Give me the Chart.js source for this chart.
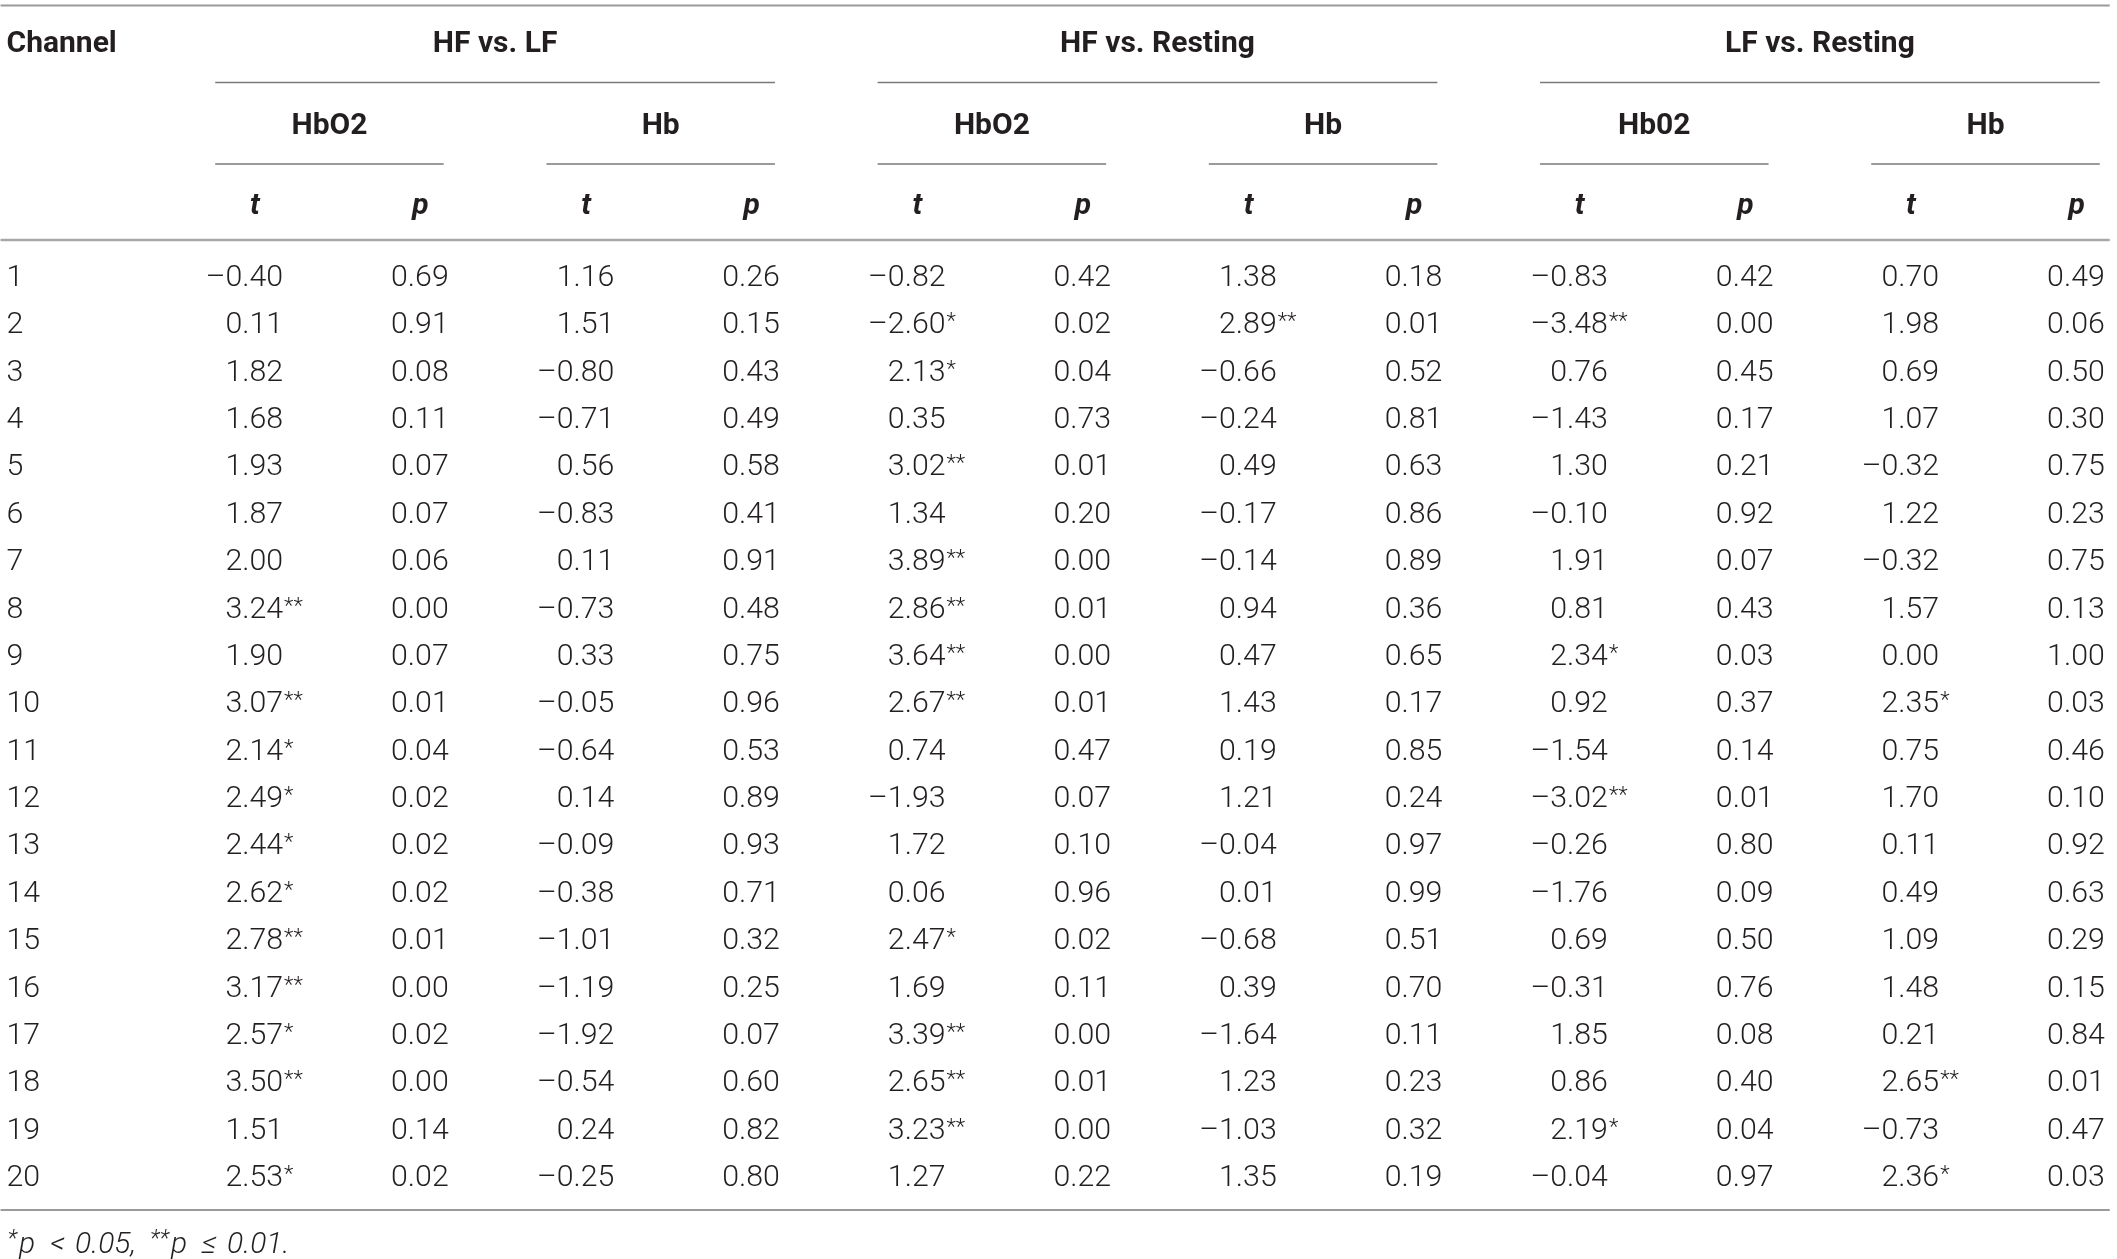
<!DOCTYPE html>
<html>
<head>
<meta charset="utf-8">
<script src="https://cdn.jsdelivr.net/npm/chart.js@4.4.1/dist/chart.umd.min.js"></script>
<style>
  html, body { margin: 0; padding: 0; background: #fff; }
  #wrap { width: 2117px; height: 1259px; }
</style>
</head>
<body>
<div id="wrap"><canvas id="table-chart" width="2117" height="1259"></canvas></div>
<script>
// rows
var channels = [1,2,3,4,5,6,7,8,9,10,11,12,13,14,15,16,17,18,19,20];

// HF vs. LF
var hfLfHbO2T = [-0.40,0.11,1.82,1.68,1.93,1.87,2.00,3.24,1.90,3.07,2.14,2.49,2.44,2.62,2.78,3.17,2.57,3.50,1.51,2.53];
var hfLfHbO2P = [0.69,0.91,0.08,0.11,0.07,0.07,0.06,0.00,0.07,0.01,0.04,0.02,0.02,0.02,0.01,0.00,0.02,0.00,0.14,0.02];
var hfLfHbT   = [1.16,1.51,-0.80,-0.71,0.56,-0.83,0.11,-0.73,0.33,-0.05,-0.64,0.14,-0.09,-0.38,-1.01,-1.19,-1.92,-0.54,0.24,-0.25];
var hfLfHbP   = [0.26,0.15,0.43,0.49,0.58,0.41,0.91,0.48,0.75,0.96,0.53,0.89,0.93,0.71,0.32,0.25,0.07,0.60,0.82,0.80];

// HF vs. Resting
var hfRestHbO2T = [-0.82,-2.60,2.13,0.35,3.02,1.34,3.89,2.86,3.64,2.67,0.74,-1.93,1.72,0.06,2.47,1.69,3.39,2.65,3.23,1.27];
var hfRestHbO2P = [0.42,0.02,0.04,0.73,0.01,0.20,0.00,0.01,0.00,0.01,0.47,0.07,0.10,0.96,0.02,0.11,0.00,0.01,0.00,0.22];
var hfRestHbT   = [1.38,2.89,-0.66,-0.24,0.49,-0.17,-0.14,0.94,0.47,1.43,0.19,1.21,-0.04,0.01,-0.68,0.39,-1.64,1.23,-1.03,1.35];
var hfRestHbP   = [0.18,0.01,0.52,0.81,0.63,0.86,0.89,0.36,0.65,0.17,0.85,0.24,0.97,0.99,0.51,0.70,0.11,0.23,0.32,0.19];

// LF vs. Resting
var lfRestHbO2T = [-0.83,-3.48,0.76,-1.43,1.30,-0.10,1.91,0.81,2.34,0.92,-1.54,-3.02,-0.26,-1.76,0.69,-0.31,1.85,0.86,2.19,-0.04];
var lfRestHbO2P = [0.42,0.00,0.45,0.17,0.21,0.92,0.07,0.43,0.03,0.37,0.14,0.01,0.80,0.09,0.50,0.76,0.08,0.40,0.04,0.97];
var lfRestHbT   = [0.70,1.98,0.69,1.07,-0.32,1.22,-0.32,1.57,0.00,2.35,0.75,1.70,0.11,0.49,1.09,1.48,0.21,2.65,-0.73,2.36];
var lfRestHbP   = [0.49,0.06,0.50,0.30,0.75,0.23,0.75,0.13,1.00,0.03,0.46,0.10,0.92,0.63,0.29,0.15,0.84,0.01,0.47,0.03];

// header texts
var groupLabels  = ["HF vs. LF", "HF vs. Resting", "LF vs. Resting"];
var signalLabels = ["HbO2", "Hb", "HbO2", "Hb", "Hb02", "Hb"];
var statLabels   = ["t", "p"];
var firstHeader  = "Channel";
var noteParts    = [["*", 1], ["p", 0], ["<", 0], ["0.05,", 0], ["**", 1], ["p", 0], ["\u2264", 0], ["0.01.", 0]];

// t/p pairs, left to right
var pairs = [
  [hfLfHbO2T, hfLfHbO2P], [hfLfHbT, hfLfHbP],
  [hfRestHbO2T, hfRestHbO2P], [hfRestHbT, hfRestHbP],
  [lfRestHbO2T, lfRestHbO2P], [lfRestHbT, lfRestHbP]
];

// layout (scale units): column index on x, row number on y
var CHANNEL_X = -1.67;
var ROW_TOP_RULE = -4.71, ROW_GROUP = -3.95, ROW_GROUP_LINE = -3.085,
    ROW_SIGNAL = -2.23, ROW_SIGNAL_LINE = -1.364, ROW_STAT = -0.50,
    ROW_HEAD_RULE = 0.24, ROW_BOTTOM_RULE = 20.717, ROW_NOTE = 21.40;

var TEXT = "#231f20";
var NUM_FONT = "300 29px Roboto";
var NUM_STRETCH = 1.045;
var STAR_FONT = "300 22px Roboto";
var HEAD_FONT = "bold 30px Roboto";
var STAT_FONT = "italic bold 30px Roboto";
var NOTE_FONT = "italic 300 30px Roboto";
var NOTE_SUP_FONT = "italic 300 23px Roboto";
var NOTE_GAPS = [2, 15, 10, 14, 2, 15, 10, 0];

function fmt(v) {
  var s = Math.abs(v).toFixed(2);
  return v < 0 ? "\u2013" + s : s;
}
function stars(p) {
  if (p <= 0.01) return "**";
  if (p < 0.05) return "*";
  return "";
}

// one dataset per column; points are invisible, text is drawn at them
var datasets = [];
datasets.push({
  label: firstHeader,
  data: channels.map(function (ch) { return { x: CHANNEL_X, y: ch }; }),
  cellText: channels.map(function (ch) { return String(ch); }),
  cellStars: channels.map(function () { return ""; }),
  align: "left"
});
pairs.forEach(function (pr, k) {
  var tArr = pr[0], pArr = pr[1];
  datasets.push({
    label: signalLabels[k] + " t",
    data: channels.map(function (ch) { return { x: 2 * k, y: ch }; }),
    cellText: tArr.map(fmt),
    cellStars: pArr.map(stars),
    align: "right"
  });
  datasets.push({
    label: signalLabels[k] + " p",
    data: channels.map(function (ch) { return { x: 2 * k + 1, y: ch }; }),
    cellText: pArr.map(fmt),
    cellStars: pArr.map(function () { return ""; }),
    align: "right"
  });
});

var tablePlugin = {
  id: "tableText",
  afterDatasetsDraw: function (chart) {
    var ctx = chart.ctx, xs = chart.scales.x, ys = chart.scales.y;
    ctx.save();
    ctx.fillStyle = TEXT;
    ctx.textBaseline = "alphabetic";

    // body cells (slightly widened glyphs, anchored at the point)
    chart.data.datasets.forEach(function (ds, d) {
      var meta = chart.getDatasetMeta(d);
      meta.data.forEach(function (el, i) {
        var base = el.y + 10;
        ctx.save();
        ctx.translate(el.x, base);
        ctx.scale(NUM_STRETCH, 1);
        ctx.font = NUM_FONT;
        ctx.textAlign = ds.align;
        ctx.fillText(ds.cellText[i], 0, 0);
        ctx.restore();
        if (ds.cellStars[i]) {
          ctx.font = STAR_FONT;
          ctx.textAlign = "left";
          ctx.fillText(ds.cellStars[i], el.x + 1, base - 5);
        }
      });
    });

    function hline(y, x0, x1, w, col) {
      ctx.beginPath();
      ctx.strokeStyle = col;
      ctx.lineWidth = w;
      ctx.moveTo(x0, y);
      ctx.lineTo(x1, y);
      ctx.stroke();
    }
    var left = xs.getPixelForValue(CHANNEL_X) - 6;
    var right = xs.getPixelForValue(11) + 5;

    // rules
    hline(ys.getPixelForValue(ROW_TOP_RULE), left, right, 2, "#9a9a9a");
    hline(ys.getPixelForValue(ROW_HEAD_RULE), left, right, 2.5, "#a8a8a8");
    hline(ys.getPixelForValue(ROW_BOTTOM_RULE), left, right, 2, "#9a9a9a");

    // headers
    ctx.font = HEAD_FONT;
    ctx.textAlign = "left";
    ctx.fillText(firstHeader, xs.getPixelForValue(CHANNEL_X), ys.getPixelForValue(ROW_GROUP) + 11);

    ctx.textAlign = "center";
    groupLabels.forEach(function (g, k) {
      var x0 = xs.getPixelForValue(4 * k - 0.41), x1 = xs.getPixelForValue(4 * k + 2.97);
      ctx.font = HEAD_FONT;
      ctx.fillText(g, (x0 + x1) / 2, ys.getPixelForValue(ROW_GROUP) + 11);
      hline(ys.getPixelForValue(ROW_GROUP_LINE), x0, x1, 1.6, "#7a7a7a");
    });
    signalLabels.forEach(function (s, k) {
      var x0 = xs.getPixelForValue(2 * k - 0.41), x1 = xs.getPixelForValue(2 * k + 0.97);
      ctx.font = HEAD_FONT;
      ctx.fillText(s, (x0 + x1) / 2, ys.getPixelForValue(ROW_SIGNAL) + 11);
      hline(ys.getPixelForValue(ROW_SIGNAL_LINE), x0, x1, 1.6, "#7a7a7a");
    });
    ctx.font = STAT_FONT;
    for (var c = 0; c < 12; c++) {
      ctx.fillText(statLabels[c % 2], xs.getPixelForValue(c - 0.17), ys.getPixelForValue(ROW_STAT) + 9);
    }

    // footnote
    var fx = xs.getPixelForValue(CHANNEL_X) + 1, fy = ys.getPixelForValue(ROW_NOTE) + 11;
    ctx.textAlign = "left";
    noteParts.forEach(function (pt, i) {
      ctx.font = pt[1] ? NOTE_SUP_FONT : NOTE_FONT;
      ctx.fillText(pt[0], fx, pt[1] ? fy - 7 : fy);
      fx += ctx.measureText(pt[0]).width + NOTE_GAPS[i];
    });
    ctx.restore();
  }
};

var ctxEl = document.getElementById("table-chart");
new Chart(ctxEl, {
  type: "scatter",
  data: { datasets: datasets },
  options: {
    responsive: false,
    devicePixelRatio: 1,
    animation: false,
    events: [],
    layout: { padding: 0 },
    elements: { point: { radius: 0, hoverRadius: 0 } },
    plugins: { legend: { display: false }, tooltip: { enabled: false } },
    scales: {
      x: { type: "linear", display: false, min: -1.7095, max: 11.074 },
      y: { type: "linear", display: false, reverse: true, min: -4.826, max: 21.751 }
    }
  },
  plugins: [tablePlugin]
});
</script>
</body>
</html>
